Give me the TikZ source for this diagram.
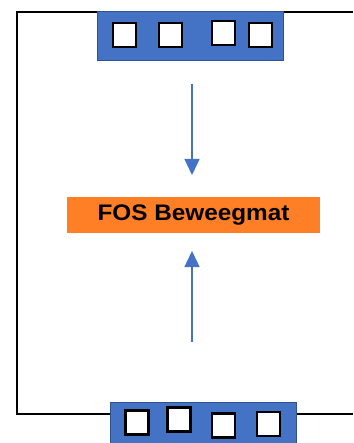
\documentclass[tikz,border=0pt]{standalone}
\usepackage{fontspec}
\setmainfont{Liberation Sans}
\usetikzlibrary{arrows.meta}
\definecolor{barblue}{HTML}{4472C4}
\definecolor{baredge}{HTML}{2F528F}
\definecolor{matorange}{HTML}{FF7F27}
\tikzset{
  bar/.style={draw=baredge, line width=1pt, fill=barblue},
  sq/.style={draw=black, line width=2.8pt, fill=white, inner sep=0pt, minimum width=23pt, minimum height=24pt},
  frame/.style={draw=black, line width=2pt},
  flow/.style={draw=barblue, line width=1.3pt, -{Triangle[length=16pt,width=15pt]}},
  mat/.style={fill=matorange, inner sep=0pt, minimum width=253pt, minimum height=35pt, font=\fontsize{22.5}{24}\selectfont\bfseries}
}
\begin{document}
\begin{tikzpicture}[x=1pt,y=-1pt]
\useasboundingbox (0,0) rectangle (353,443);
% frame
\coordinate (ftr) at (353,12);
\coordinate (ftl) at (17,12);
\coordinate (fbl) at (17,414);
\coordinate (fbr) at (353,414);
\draw[frame] (ftr) -- (ftl) -- (fbl) -- (fbr);
% top bar
\node[bar, inner sep=0pt, minimum width=186pt, minimum height=49pt] (topbar) at (190.5,36.5) {};
\node[sq] (t1) at (124.5,35) {};
\node[sq] (t2) at (170.5,35) {};
\node[sq] (t3) at (223.5,33) {};
\node[sq] (t4) at (260.5,35) {};
% bottom bar
\node[bar, inner sep=0pt, minimum width=186pt, minimum height=50pt] (botbar) at (203.5,427) {};
\node[sq] (b1) at (137,422.5) {};
\node[sq] (b2) at (179,419.5) {};
\node[sq] (b3) at (223.5,425.5) {};
\node[sq] (b4) at (268.5,424) {};
% mat
\node[mat] (mat) at (193.5,215) {\scalebox{1.08}[1]{FOS Beweegmat}};
% arrows
\coordinate (d0) at (192,84);
\coordinate (d1) at (192,175);
\coordinate (u0) at (192,342);
\coordinate (u1) at (192,251);
\draw[flow] (d0) -- (d1);
\draw[flow] (u0) -- (u1);
\end{tikzpicture}
\end{document}
